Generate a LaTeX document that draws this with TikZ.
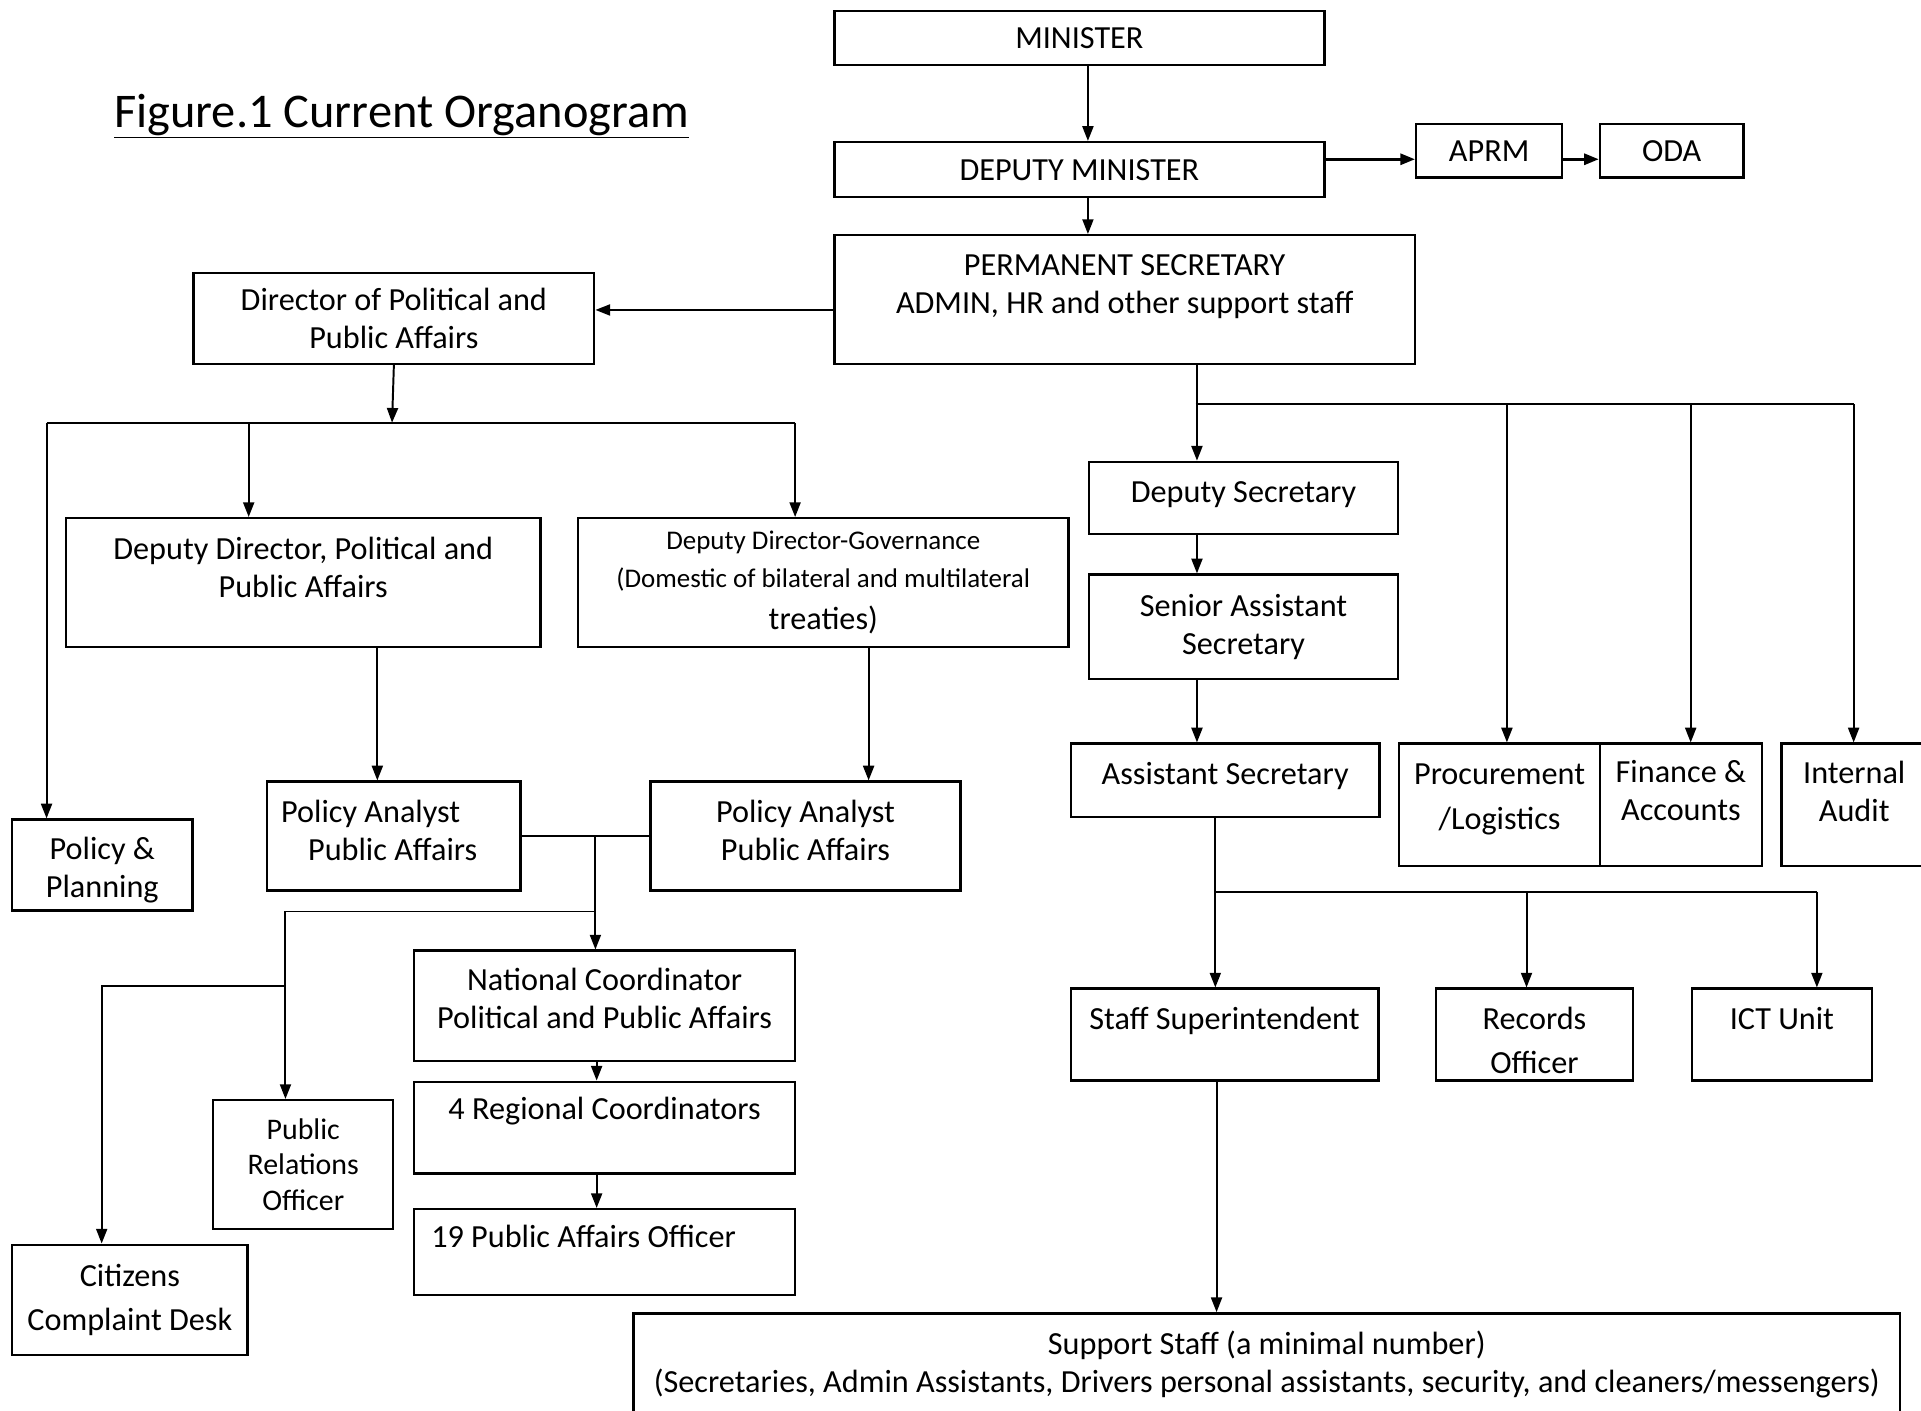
\documentclass[tikz,border=0pt]{standalone}
\usepackage{fontspec}
\setmainfont{Carlito}
\usetikzlibrary{arrows.meta, positioning}
\tikzstyle{box}   = [rectangle, draw=black, line width=2pt, inner sep=2pt,
                     align=center, anchor=north west,
                     font=\fontsize{26.3}{31}\selectfont]
\tikzstyle{arrow} = [-{Triangle[length=12pt, width=9pt]}, line width=1.6pt]
\tikzstyle{link}  = [line width=1.6pt]
\newcommand{\trailline}[1][0pt]{\\[#1]\mbox{}}
\newcommand{\leadline}[1][0pt]{\strut\\[#1]}

\begin{document}
\begin{tikzpicture}[x=1pt, y=-1pt]
  \useasboundingbox (0,0) rectangle (1568,1151);
  \clip (0,0) rectangle (1568,1151);

  % Title
  \node[anchor=west, inner sep=0pt, font=\fontsize{39.5}{46}\selectfont] (title) at (93,95)
    {\underline{Figure.1 Current Organogram}};

  % Top of the ministry
  \node[box, minimum width=400, minimum height=44]  (min)  at (680,8)   {MINISTER};
  \node[box, minimum width=400, minimum height=45]  (dep)  at (680,115) {DEPUTY MINISTER};
  \node[box, minimum width=119, minimum height=44]  (aprm) at (1155,100) {APRM};
  \node[box, minimum width=117, minimum height=44]  (oda)  at (1305,100) {ODA};
  \node[box, minimum width=474, minimum height=105] (ps)   at (680,191)
    {PERMANENT SECRETARY\\ADMIN, HR and other support staff\trailline[-6pt]};

  % Political and public affairs
  \node[box, minimum width=327, minimum height=74]  (dir) at (157,222)
    {Director of Political and\\Public Affairs};
  \node[box, minimum width=387, minimum height=105] (dd)  at (53,422)
    {Deputy Director, Political and\\Public Affairs\trailline[-6pt]};
  \node[box, minimum width=400, minimum height=105] (ddg) at (471,422)
    {{\fontsize{22}{31}\selectfont Deputy Director-Governance}\\
     {\fontsize{22}{31}\selectfont (Domestic of bilateral and multilateral}\\[3pt]
     treaties)};
  \node[box, minimum width=147, minimum height=74]  (pp)  at (9,668)
    {\leadline[-26pt]Policy \&\\Planning};
  \node[box, minimum width=207, minimum height=89]  (pal) at (217,637)
    {\makebox[184pt][l]{Policy Analyst}\\
     \makebox[184pt][l]{\hspace*{22pt}Public Affairs}\trailline[-21pt]};
  \node[box, minimum width=253, minimum height=89]  (par) at (530,637)
    {Policy Analyst\\Public Affairs\trailline[-21pt]};
  \node[box, minimum width=311, minimum height=90]  (natc) at (337,775)
    {National Coordinator\\Political and Public Affairs\trailline[-19pt]};
  \node[box, minimum width=311, minimum height=75]  (reg) at (337,882)
    {4 Regional Coordinators\trailline};
  \node[box, minimum width=311, minimum height=70]  (pao) at (337,986)
    {\makebox[283pt][l]{19 Public Affairs Officer}\trailline[-6pt]};
  \node[box, minimum width=147, minimum height=105,
        font=\fontsize{24.4}{29}\selectfont]         (pro) at (173,897)
    {Public\\Relations\\Officer};
  \node[box, minimum width=192, minimum height=90]  (ccd) at (9,1015)
    {Citizens\\[5pt]Complaint Desk};

  % Administration
  \node[box, minimum width=252, minimum height=59]  (ds)   at (888,376)  {Deputy Secretary\trailline[-21pt]};
  \node[box, minimum width=252, minimum height=85]  (sas)  at (888,468)  {Senior Assistant\\Secretary};
  \node[box, minimum width=252, minimum height=60]  (as)   at (873,606)  {Assistant Secretary\trailline[-19pt]};
  \node[box, minimum width=164, minimum height=100] (proc) at (1141,606) {Procurement\\[6pt]/Logistics\trailline[-17pt]};
  \node[box, minimum width=132, minimum height=100] (fin)  at (1305,606) {Finance \&\\Accounts\trailline[-8pt]};
  \node[box, minimum width=119, minimum height=100] (ia)   at (1453,606) {Internal\\Audit\trailline[-8pt]};
  \node[box, minimum width=251, minimum height=75]  (ss)   at (873,806)  {Staff Superintendent\trailline[-4pt]};
  \node[box, minimum width=161, minimum height=75]  (rec)  at (1171,806) {\leadline[-25pt]Records\\[5pt]Officer};
  \node[box, minimum width=147, minimum height=75]  (ict)  at (1380,806) {ICT Unit\trailline[-4pt]};
  \node[box, minimum width=1034, minimum height=84] (sup)  at (516,1071)
    {Support Staff (a minimal number)\\
     (Secretaries, Admin Assistants, Drivers personal assistants, security, and cleaners/messengers)};

  % Top chain
  \draw[arrow] ([xshift=7]min.south) -- ([xshift=7]dep.north);
  \draw[arrow] ([xshift=7]dep.south) -- ([xshift=7]dep.south |- ps.north);
  \draw[arrow, line width=2.4pt] ([yshift=-7]aprm.west -| dep.east) -- ([yshift=-7]aprm.west);
  \draw[arrow, line width=2.4pt] ([yshift=-7]aprm.east) -- ([yshift=-7]oda.west);

  % Left branch
  \coordinate (lbus)   at (320,345);
  \coordinate (lbus-l) at (38,345);
  \coordinate (lbus-r) at (649,345);
  \coordinate (pamid)  at (486,682);
  \coordinate (prj)    at (486,744);
  \coordinate (ccj)    at (232,805);
  \draw[arrow] ([yshift=-8.5]ps.west) -- ([yshift=-8.5]ps.west -| dir.east);
  \draw[arrow] (dir.south) -- (lbus);
  \draw[link]  (lbus-l) -- (lbus-r);
  \draw[arrow] (lbus-l) -- (lbus-l |- pp.north);
  \draw[arrow] ([xshift=-44.5]dd.north |- lbus) -- ([xshift=-44.5]dd.north);
  \draw[arrow] (lbus-r) -- (lbus-r |- ddg.north);
  \draw[arrow] ([xshift=60.5]dd.south) -- ([xshift=60.5]dd.south |- pal.north);
  \draw[arrow] ([xshift=37]ddg.south) -- ([xshift=37]ddg.south |- par.north);
  \draw[link]  (pal.east) -- (par.west);
  \draw[arrow] (pamid) -- (pamid |- natc.north);
  \draw[arrow] (prj) -| ([xshift=-14.5]pro.north);
  \draw[arrow] (ccj) -| ([xshift=-23]ccd.north);
  \draw[arrow] ([xshift=-6.5]natc.south) -- ([xshift=-6.5]reg.north);
  \draw[arrow] ([xshift=-6.5]reg.south) -- ([xshift=-6.5]pao.north);

  % Right branch
  \coordinate (rbus)   at (976,330);
  \coordinate (rbus-r) at (1513,330);
  \coordinate (abus)   at (992,728);
  \coordinate (abus-r) at (1483,728);
  \draw[arrow] ([xshift=59]ps.south) -- ([xshift=59]ps.south |- ds.north);
  \draw[link]  (rbus) -- (rbus-r);
  \draw[arrow] ([xshift=6]proc.north |- rbus) -- ([xshift=6]proc.north);
  \draw[arrow] ([xshift=8]fin.north |- rbus) -- ([xshift=8]fin.north);
  \draw[arrow] (rbus-r) -- (rbus-r |- ia.north);
  \draw[arrow] ([xshift=-38]ds.south) -- ([xshift=-38]sas.north);
  \draw[arrow] ([xshift=-38]sas.south) -- ([xshift=-38]sas.south |- as.north);
  \draw[link]  (abus |- as.south) -- (abus) -- (abus-r);
  \draw[arrow] (abus) -- (abus |- ss.north);
  \draw[arrow] ([xshift=-6.5]rec.north |- abus) -- ([xshift=-6.5]rec.north);
  \draw[arrow] (abus-r) -- (abus-r |- ict.north);
  \draw[arrow] ([xshift=-6.5]ss.south) -- ([xshift=-6.5]ss.south |- sup.north);
\end{tikzpicture}
\end{document}
